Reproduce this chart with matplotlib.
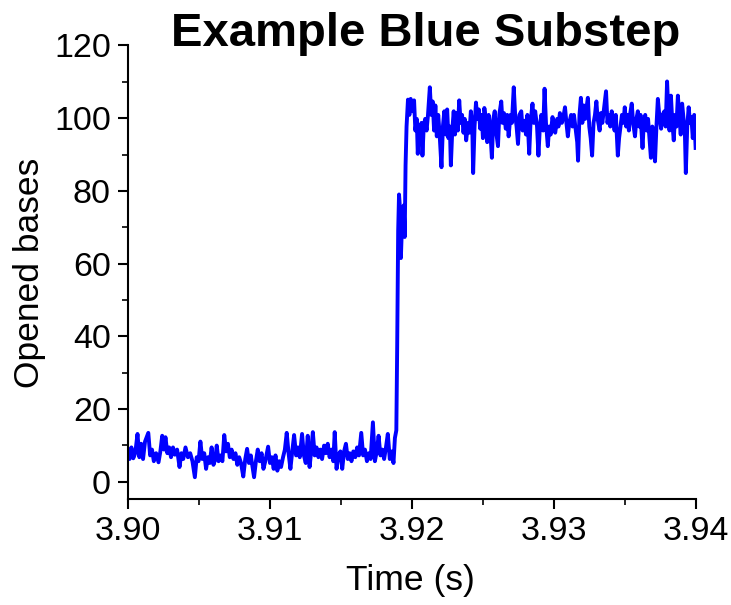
import numpy as np
import matplotlib
matplotlib.use("Agg")
import matplotlib.pyplot as plt
from matplotlib.ticker import MultipleLocator, FormatStrFormatter

plt.rcParams['font.family'] = ['Liberation Sans', 'DejaVu Sans']

t0 = 3.90
offset_ms = [
    0.00, 0.13, 0.26, 0.39, 0.53, 0.69, 0.82, 0.95, 1.08, 1.22, 1.45, 1.58, 1.71, 1.84, 2.00, 2.17,
    2.30, 2.43, 2.56, 2.66, 2.79, 2.92, 3.05, 3.19, 3.32, 3.48, 3.65, 3.78, 3.91, 4.07, 4.24, 4.40,
    4.56, 4.73, 4.86, 4.99, 5.12, 5.25, 5.39, 5.52, 5.65, 5.78, 5.91, 6.04, 6.17, 6.27, 6.40, 6.54,
    6.67, 6.80, 6.93, 7.06, 7.19, 7.32, 7.45, 7.59, 7.72, 7.85, 7.98, 8.14, 8.28, 8.41, 8.54, 8.67,
    8.77, 8.90, 9.03, 9.16, 9.29, 9.43, 9.56, 9.69, 9.89, 10.02, 10.15, 10.28, 10.41, 10.54, 10.67,
    10.80, 10.94, 11.07, 11.20, 11.33, 11.46, 11.59, 11.72, 11.86, 11.99, 12.12, 12.28, 12.41, 12.54,
    12.68, 12.81, 12.91, 13.04, 13.17, 13.30, 13.43, 13.56, 13.69, 13.83, 13.96, 14.09, 14.22, 14.35,
    14.48, 14.58, 14.71, 14.84, 14.98, 15.11, 15.24, 15.37, 15.50, 15.63, 15.76, 15.89, 16.03, 16.16,
    16.29, 16.45, 16.58, 16.71, 16.85, 16.98, 17.11, 17.27, 17.41, 17.54, 17.67, 17.80, 17.93, 18.06,
    18.19, 18.32, 18.46, 18.59, 18.72, 18.82, 18.92,
    18.98, 19.05, 19.11, 19.18, 19.24, 19.34, 19.44, 19.51, 19.57, 19.64,
    19.74, 19.84, 19.93, 20.07, 20.17, 20.26, 20.36, 20.43, 20.53, 20.62, 20.69, 20.76, 20.85, 20.95,
    21.05, 21.15, 21.28, 21.38, 21.48, 21.58, 21.67, 21.77, 21.87, 21.97, 22.10, 22.20, 22.30, 22.40,
    22.50, 22.59, 22.69, 22.76, 22.86, 22.96, 23.05, 23.15, 23.25, 23.35, 23.45, 23.55, 23.65, 23.74,
    23.84, 23.97, 24.07, 24.17, 24.27, 24.33, 24.43, 24.53, 24.63, 24.73, 24.83, 24.93, 25.02, 25.12,
    25.22, 25.32, 25.42, 25.52, 25.65, 25.75, 25.85, 25.94, 26.08, 26.17, 26.31, 26.40, 26.50, 26.63,
    26.73, 26.83, 26.96, 27.06, 27.19, 27.29, 27.39, 27.49, 27.59, 27.72, 27.82, 27.95, 28.05, 28.15,
    28.28, 28.37, 28.51, 28.60, 28.70, 28.83, 28.93, 29.03, 29.13, 29.26, 29.36, 29.46, 29.59, 29.69,
    29.79, 29.92, 30.02, 30.11, 30.25, 30.34, 30.44, 30.58, 30.71, 30.80, 30.90, 31.00, 31.10, 31.23,
    31.33, 31.43, 31.56, 31.66, 31.72, 31.82, 31.92, 32.02, 32.12, 32.22, 32.32, 32.41, 32.51, 32.61,
    32.71, 32.81, 32.91, 33.01, 33.10, 33.24, 33.33, 33.43, 33.56, 33.69, 33.79, 33.89, 33.99, 34.09,
    34.19, 34.29, 34.38, 34.52, 34.61, 34.71, 34.81, 34.91, 35.01, 35.11, 35.21, 35.30, 35.40, 35.50,
    35.60, 35.73, 35.83, 35.93, 36.03, 36.12, 36.26, 36.35, 36.45, 36.55, 36.65, 36.75, 36.85, 36.95,
    37.04, 37.14, 37.24, 37.34, 37.44, 37.57, 37.67, 37.80, 37.89, 37.99, 38.09, 38.16, 38.26, 38.36,
    38.46, 38.55, 38.65, 38.75, 38.85, 38.95, 39.05, 39.15, 39.24, 39.31, 39.41, 39.51, 39.61, 39.70,
    39.80, 39.90, 40.00,
]
opened_bases = [
    8.8, 6.2, 9.4, 6.4, 7.8, 13.1, 6.7, 10.4, 6.2, 11.0, 13.4, 7.2, 8.8, 5.6, 7.8, 5.3,
    8.3, 12.6, 8.8, 12.2, 7.8, 9.4, 6.7, 9.4, 7.4, 8.8, 4.0, 7.8, 6.2, 9.4, 6.7, 7.8,
    5.6, 1.2, 6.7, 5.6, 11.0, 6.2, 7.8, 3.5, 6.7, 5.1, 9.4, 4.6, 6.2, 9.9, 5.6, 7.2,
    5.6, 12.8, 8.3, 10.4, 6.7, 8.8, 6.2, 7.8, 4.6, 6.7, 5.1, 1.4, 6.2, 9.0, 5.1, 7.2,
    4.6, 1.2, 5.6, 8.8, 5.6, 7.8, 3.5, 5.6, 9.6, 5.1, 6.7, 3.5, 7.2, 3.0, 5.6,
    4.0, 6.7, 8.8, 13.4, 7.8, 3.5, 8.3, 12.8, 7.2, 9.4, 6.7, 13.1, 7.2, 5.1,
    12.6, 4.0, 7.8, 13.6, 7.2, 9.4, 6.7, 8.8, 6.2, 9.9, 7.8, 10.4, 6.7, 8.8,
    5.6, 13.6, 3.5, 7.2, 8.3, 3.5, 8.3, 10.4, 6.2, 7.8, 5.6, 8.3, 6.7, 9.4,
    7.2, 13.4, 7.2, 8.8, 5.6, 7.8, 6.2, 16.3, 5.6, 8.3, 12.6, 7.2, 8.8, 6.2,
    9.4, 13.1, 6.2, 8.3, 5.1, 12.0, 14.1,
    37.0, 69.0, 79.0, 75.0, 61.5, 73.0, 76.0, 67.3, 87.0, 97.7,
    105.1, 100.9, 105.3, 101.9, 104.9, 96.6, 99.8, 90.2, 97.7, 93.4, 98.7, 89.7, 97.7, 99.8,
    96.6, 100.9, 108.5, 100.9, 104.6, 96.6, 103.5, 95.0, 100.9, 95.5, 86.5, 97.7, 101.9, 95.5,
    102.4, 94.5, 97.7, 87.0, 96.6, 101.9, 95.5, 101.4, 96.6, 104.9, 98.7, 100.9, 96.0, 99.8,
    93.9, 98.7, 96.0, 101.9, 97.7, 84.9, 97.7, 104.3, 99.8, 102.4, 97.1, 100.9, 94.5, 102.8,
    99.8, 93.4, 100.9, 97.7, 89.1, 99.8, 101.9, 96.6, 92.3, 100.9, 104.6, 98.7, 101.4, 97.1,
    100.9, 95.0, 100.9, 98.7, 108.5, 100.9, 97.7, 92.9, 100.9, 101.9, 96.6, 99.3, 95.5, 100.9,
    90.2, 98.7, 104.0, 98.7, 101.9, 97.7, 89.7, 97.7, 100.9, 96.6, 108.1, 98.7, 92.3, 97.7,
    95.5, 100.3, 97.7, 96.0, 99.8, 97.7, 101.4, 98.7, 100.9, 103.0, 98.7, 95.0, 98.7, 100.9,
    97.7, 100.9, 96.6, 93.4, 88.3, 100.9, 105.6, 98.7, 103.5, 99.8, 103.0, 105.6, 97.7, 94.5,
    89.7, 98.7, 100.9, 104.6, 99.8, 96.6, 101.4, 98.7, 103.0, 107.4, 98.7, 100.9, 97.7, 101.9,
    99.8, 96.6, 100.9, 89.7, 94.5, 97.7, 100.9, 98.7, 103.0, 97.7, 100.9, 96.6, 101.4, 104.0,
    98.7, 95.0, 99.8, 101.9, 97.7, 100.9, 91.8, 98.7, 100.9, 96.6, 99.8, 94.5, 89.1, 97.7,
    92.3, 88.1, 97.7, 105.3, 100.9, 97.1, 100.9, 101.9, 97.7, 110.1, 100.9, 96.6, 106.2, 98.7,
    93.9, 100.9, 97.7, 106.2, 100.9, 95.5, 104.0, 99.8, 96.6, 84.9, 97.7, 103.0, 98.7, 100.3,
    94.5, 100.9, 91.8,
]

x_ticks = [3.90, 3.91, 3.92, 3.93, 3.94]
y_ticks = [0, 20, 40, 60, 80, 100, 120]

time_s = t0 + np.array(offset_ms) / 1000.0

fig = plt.figure(figsize=(7.31, 6.05), dpi=100)
ax = fig.add_axes([0.1747, 0.1752, 0.9516 - 0.1747, 0.9248 - 0.1752])

ax.plot(time_s, opened_bases, color='#0000FF', linewidth=2.8, solid_joinstyle='round')

ax.set_xlim(3.90, 3.94)
ax.set_ylim(-4.8, 120)
ax.set_xticks(x_ticks)
ax.set_yticks(y_ticks)
ax.xaxis.set_major_formatter(FormatStrFormatter('%.2f'))
ax.xaxis.set_minor_locator(MultipleLocator(0.005))
ax.yaxis.set_minor_locator(MultipleLocator(10))

for s in ['top', 'right']:
    ax.spines[s].set_visible(False)
for s in ['left', 'bottom']:
    ax.spines[s].set_linewidth(1.5)

ax.tick_params(axis='both', which='major', direction='out', length=7.2, width=1.5,
               labelsize=24.5, pad=5)
ax.tick_params(axis='both', which='minor', direction='out', length=4.5, width=1.2)

fig.text(0.583, 0.924, 'Example Blue Substep', fontsize=34, fontweight='bold',
         ha='center', va='baseline')
fig.text(0.040, 0.549, 'Opened bases', fontsize=25.5, rotation=90, ha='center', va='center')
fig.text(0.561, 0.0248, 'Time (s)', fontsize=25.5, ha='center', va='baseline')

fig.savefig('out.png', dpi=100)
